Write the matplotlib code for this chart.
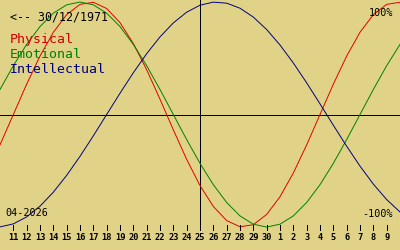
import matplotlib
matplotlib.use('Agg')
import matplotlib.pyplot as plt
import matplotlib.transforms as mtransforms

# Day index: 25 = 25 April 2026 (centre), 31 = 1 May
days = list(range(10, 41))
day_labels = [str(d) for d in range(11, 31)] + [str(d) for d in range(1, 10)]
label_days = list(range(11, 40))

# Cycle values (-1 .. 1) read per day
physical = [-0.2698, 0.0, 0.2698, 0.5196, 0.7308, 0.8879, 0.9791, 0.9977, 0.9423,
            0.8170, 0.6310, 0.3984, 0.1362, -0.1362, -0.3984, -0.6310, -0.8170,
            -0.9423, -0.9977, -0.9791, -0.8879, -0.7308, -0.5196, -0.2698, 0.0,
            0.2698, 0.5196, 0.7308, 0.8879, 0.9791, 0.9977]
emotional = [0.2225, 0.4339, 0.6235, 0.7818, 0.9010, 0.9749, 1.0, 0.9749, 0.9010,
             0.7818, 0.6235, 0.4339, 0.2225, 0.0, -0.2225, -0.4339, -0.6235,
             -0.7818, -0.9010, -0.9749, -1.0, -0.9749, -0.9010, -0.7818, -0.6235,
             -0.4339, -0.2225, 0.0, 0.2225, 0.4339, 0.6235]
intellectual = [-0.9989, -0.9718, -0.9096, -0.8146, -0.6901, -0.5406, -0.3717,
                -0.1893, 0.0, 0.1893, 0.3717, 0.5406, 0.6901, 0.8146, 0.9096,
                0.9718, 0.9989, 0.9898, 0.9450, 0.8660, 0.7557, 0.6182, 0.4582,
                0.2817, 0.0951, -0.0951, -0.2817, -0.4582, -0.6182, -0.7557, -0.8660]

bg = '#e0d387'
mono = 'DejaVu Sans Mono'

fig = plt.figure(figsize=(4, 2.5), dpi=100, facecolor=bg)
ax = fig.add_axes([0, 0, 1, 1], facecolor=bg)
ax.set_xlim(10, 40)
ax.set_ylim(-1.204, 1.018)
ax.axis('off')

# axes lines
ax.axhline(0, color='black', lw=0.72, antialiased=False)
ax.axvline(25, ymin=0.08, ymax=1, color='black', lw=0.72, antialiased=False)

# curves
ax.plot(days, physical, color='#e00000', lw=0.7)
ax.plot(days, emotional, color='#008000', lw=0.7)
ax.plot(days, intellectual, color='#000080', lw=0.7)

# day ticks along the bottom
trans = mtransforms.blended_transform_factory(ax.transData, ax.transAxes)
for d, lab in zip(label_days, day_labels):
    ax.plot([d, d], [0.08, 0.10], color='black', lw=0.72, transform=trans,
            antialiased=False)
    ax.text(d, 0.048, lab, transform=trans, ha='center', va='center',
            fontsize=6.2, fontweight='bold', family=mono)

# labels
ax.text(0.025, 0.916, '<-- 30/12/1971', transform=ax.transAxes, fontsize=8.4,
        family=mono, va='baseline')
ax.text(0.025, 0.828, 'Physical', transform=ax.transAxes, fontsize=9.5,
        family=mono, va='baseline', color='#d00000')
ax.text(0.025, 0.768, 'Emotional', transform=ax.transAxes, fontsize=9.5,
        family=mono, va='baseline', color='#008000')
ax.text(0.025, 0.708, 'Intellectual', transform=ax.transAxes, fontsize=9.5,
        family=mono, va='baseline', color='#000080')
ax.text(0.9825, 0.936, '100%', transform=ax.transAxes, fontsize=7.3,
        family=mono, va='baseline', ha='right')
ax.text(0.9825, 0.132, '-100%', transform=ax.transAxes, fontsize=7.3,
        family=mono, va='baseline', ha='right')
ax.text(0.0125, 0.136, '04-2026', transform=ax.transAxes, fontsize=7.3,
        family=mono, va='baseline')

fig.savefig('out.png', dpi=100, facecolor=bg)
